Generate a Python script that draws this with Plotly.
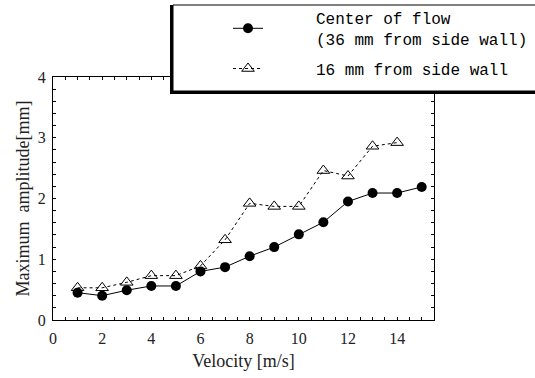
import plotly.graph_objects as go

velocity = [1, 2, 3, 4, 5, 6, 7, 8, 9, 10, 11, 12, 13, 14, 15]
center_amp = [0.45, 0.40, 0.49, 0.56, 0.56, 0.80, 0.87, 1.05, 1.20, 1.41, 1.61, 1.95, 2.09, 2.09, 2.19]
velocity_16 = [1, 2, 3, 4, 5, 6, 7, 8, 9, 10, 11, 12, 13, 14]
wall16_amp = [0.53, 0.53, 0.62, 0.73, 0.73, 0.89, 1.32, 1.92, 1.87, 1.87, 2.46, 2.37, 2.86, 2.92]

name_center = "\u00a0\u00a0\u00a0\u00a0\u00a0Center of flow<br>\u00a0\u00a0\u00a0\u00a0\u00a0(36 mm from side wall)"
name_16 = "\u00a0\u00a0\u00a0\u00a0\u00a016 mm from side wall"

W, H = 535, 378
# plot area in window pixels: x 53..434, y 77..320
L, R, T, B = 53, 535 - 434, 77, 378 - 320
pw, ph = W - L - R, H - T - B

def px(x):
    return (x - L) / pw

def py(y):
    return (H - B - y) / ph

fig = go.Figure()
fig.add_trace(go.Scatter(
    x=velocity, y=center_amp, name=name_center, mode="lines+markers",
    legendgroup="a",
    line=dict(color="black", width=1),
    marker=dict(symbol="circle", size=10, color="black"),
))
fig.add_trace(go.Scatter(
    x=velocity_16, y=wall16_amp, name=name_16, mode="lines+markers",
    legendgroup="b",
    line=dict(color="black", width=1, dash="dot"),
    marker=dict(symbol="triangle-up-open", size=11, color="black", line=dict(width=1)),
))

serif = "Liberation Serif"
axis_common = dict(
    showline=True, linecolor="black", linewidth=1, mirror="ticks",
    ticks="inside", ticklen=3, tickcolor="black", showgrid=False, zeroline=False,
    tickfont=dict(family=serif, size=16, color="#222"),
)

fig.update_xaxes(
    range=[0, 15.5], dtick=2, tick0=0, ticklabelstandoff=4,
    minor=dict(dtick=0.5, ticks="inside", ticklen=3, tickcolor="black", showgrid=False),
    title=dict(text="Velocity [m/s]", font=dict(family=serif, size=18, color="#222"), standoff=8),
    **axis_common,
)
fig.update_yaxes(
    range=[0, 4], dtick=1, tick0=0, ticklabelstandoff=3,
    minor=dict(dtick=0.2, ticks="inside", ticklen=3, tickcolor="black", showgrid=False),
    title=dict(text="Maximum  amplitude[mm]", font=dict(family=serif, size=18, color="#222"), standoff=3),
    **axis_common,
)

# legend box with drop shadow
fig.add_shape(type="rect", xref="paper", yref="paper",
              x0=px(170), x1=px(545), y0=py(94), y1=py(5),
              fillcolor="black", line=dict(width=0), layer="above")
fig.add_shape(type="rect", xref="paper", yref="paper",
              x0=px(173), x1=px(545), y0=py(91), y1=py(5),
              fillcolor="white", line=dict(color="black", width=1), layer="above")

fig.update_layout(
    width=W, height=H,
    margin=dict(l=L, r=R, t=T, b=B, autoexpand=False),
    paper_bgcolor="white", plot_bgcolor="white",
    font=dict(family=serif, color="#222"),
    showlegend=True,
    legend=dict(
        x=px(228), y=py(1), xanchor="left", yanchor="top",
        bgcolor="rgba(0,0,0,0)", borderwidth=0,
        font=dict(family="Liberation Mono", size=16, color="black"),
        traceorder="grouped", tracegroupgap=6,
    ),
)

fig.write_html("out.html", config={"displayModeBar": False},
               post_script="document.body.style.margin='0';")
